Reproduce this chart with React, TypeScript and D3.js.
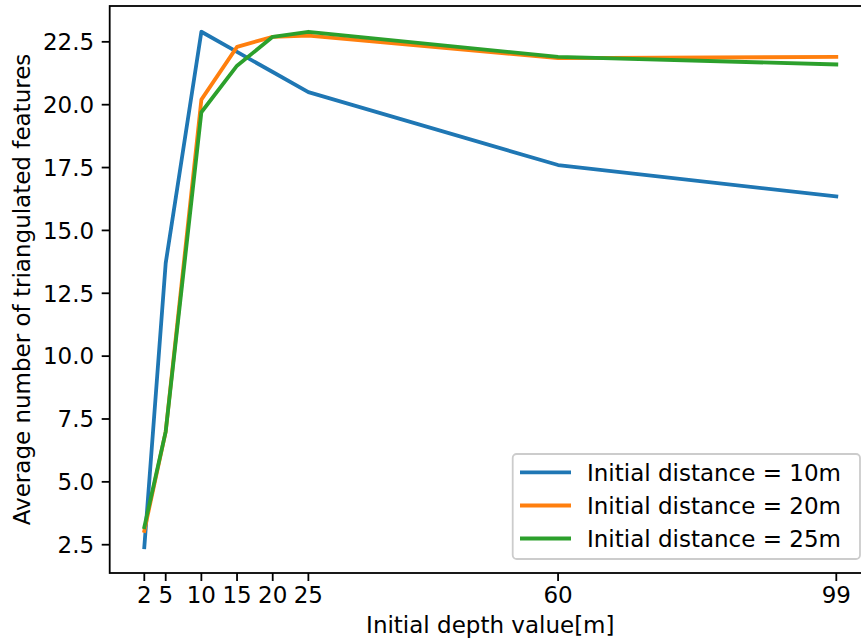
import React from "react";
import * as d3 from "d3";

const depths = [2, 5, 10, 15, 20, 25, 60, 99];
const dist10 = [2.4, 13.7, 22.9, 22.1, 21.3, 20.5, 17.6, 16.35];
const dist20 = [3.05, 7.0, 20.2, 22.3, 22.7, 22.75, 21.85, 21.9];
const dist25 = [3.2, 7.0, 19.7, 21.55, 22.7, 22.9, 21.9, 21.6];
const seriesNames = ["Initial distance = 10m", "Initial distance = 20m", "Initial distance = 25m"];
const seriesColors = ["#1f77b4", "#ff7f0e", "#2ca02c"];
const yTicks = [2.5, 5.0, 7.5, 10.0, 12.5, 15.0, 17.5, 20.0, 22.5];
const xTicks = depths;
const xLabel = "Initial depth value[m]";
const yLabel = "Average number of triangulated features";

const W = 861;
const H = 641;
const left = 109.7;
const right = 870.9;
const top = 6;
const bottom = 573;
const FONT = "DejaVu Sans, sans-serif";
const FS = 23;

export default function App() {
  const allVals = [...dist10, ...dist20, ...dist25];
  const xmin = d3.min(depths)!, xmax = d3.max(depths)!;
  const xpad = (xmax - xmin) * 0.05;
  const ymin = d3.min(allVals)!, ymax = d3.max(allVals)!;
  const ypad = (ymax - ymin) * 0.05;
  const x = d3.scaleLinear().domain([xmin - xpad, xmax + xpad]).range([left, right]);
  const y = d3.scaleLinear().domain([ymin - ypad, ymax + ypad]).range([bottom, top]);
  const series = [dist10, dist20, dist25];
  const line = d3
    .line<number>()
    .x((_, i) => x(depths[i]))
    .y((d) => y(d));

  const legX = 512.7, legY = 454, legW = 347.3, legH = 105;
  const rowY = [472.3, 505.5, 538.5];

  return (
    <svg
      width={W}
      height={H}
      style={{ position: "absolute", left: 0, top: 0, background: "#fff" }}
      fontFamily={FONT}
    >
      <rect x={0} y={0} width={W} height={H} fill="#fff" />
      <defs>
        <clipPath id="plot">
          <rect x={left} y={top} width={right - left} height={bottom - top} />
        </clipPath>
      </defs>
      {series.map((s, i) => (
        <path
          key={i}
          d={line(s)!}
          fill="none"
          stroke={seriesColors[i]}
          strokeWidth={3.8}
          strokeLinecap="square"
          strokeLinejoin="round"
          clipPath="url(#plot)"
        />
      ))}
      {/* spines */}
      <rect x={left} y={top} width={right - left} height={bottom - top} fill="none" stroke="#000" strokeWidth={1.8} />
      {/* x ticks */}
      {xTicks.map((t) => (
        <g key={"x" + t}>
          <line x1={x(t)} x2={x(t)} y1={bottom} y2={bottom + 8} stroke="#000" strokeWidth={1.8} />
          <text x={x(t)} y={603} textAnchor="middle" fontSize={FS} fill="#000">
            {t}
          </text>
        </g>
      ))}
      {/* y ticks */}
      {yTicks.map((t) => (
        <g key={"y" + t}>
          <line x1={left - 8} x2={left} y1={y(t)} y2={y(t)} stroke="#000" strokeWidth={1.8} />
          <text x={left - 15.5} y={y(t)} dy="0.36em" textAnchor="end" fontSize={FS} fill="#000">
            {t.toFixed(1)}
          </text>
        </g>
      ))}
      <text x={(left + right) / 2} y={633} textAnchor="middle" fontSize={FS} fill="#000">
        {xLabel}
      </text>
      <text
        transform={`translate(${30},${(top + bottom) / 2}) rotate(-90)`}
        textAnchor="middle"
        fontSize={FS}
        fill="#000"
      >
        {yLabel}
      </text>
      {/* legend */}
      <rect
        x={legX}
        y={legY}
        width={legW}
        height={legH}
        rx={4}
        ry={4}
        fill="#fff"
        fillOpacity={0.8}
        stroke="#cccccc"
        strokeWidth={1.8}
      />
      {seriesNames.map((n, i) => (
        <g key={n}>
          <line
            x1={520}
            x2={571}
            y1={rowY[i]}
            y2={rowY[i]}
            stroke={seriesColors[i]}
            strokeWidth={3.8}
            strokeLinecap="butt"
          />
          <text x={587} y={rowY[i]} dy="0.36em" fontSize={FS} fill="#000">
            {n}
          </text>
        </g>
      ))}
    </svg>
  );
}
